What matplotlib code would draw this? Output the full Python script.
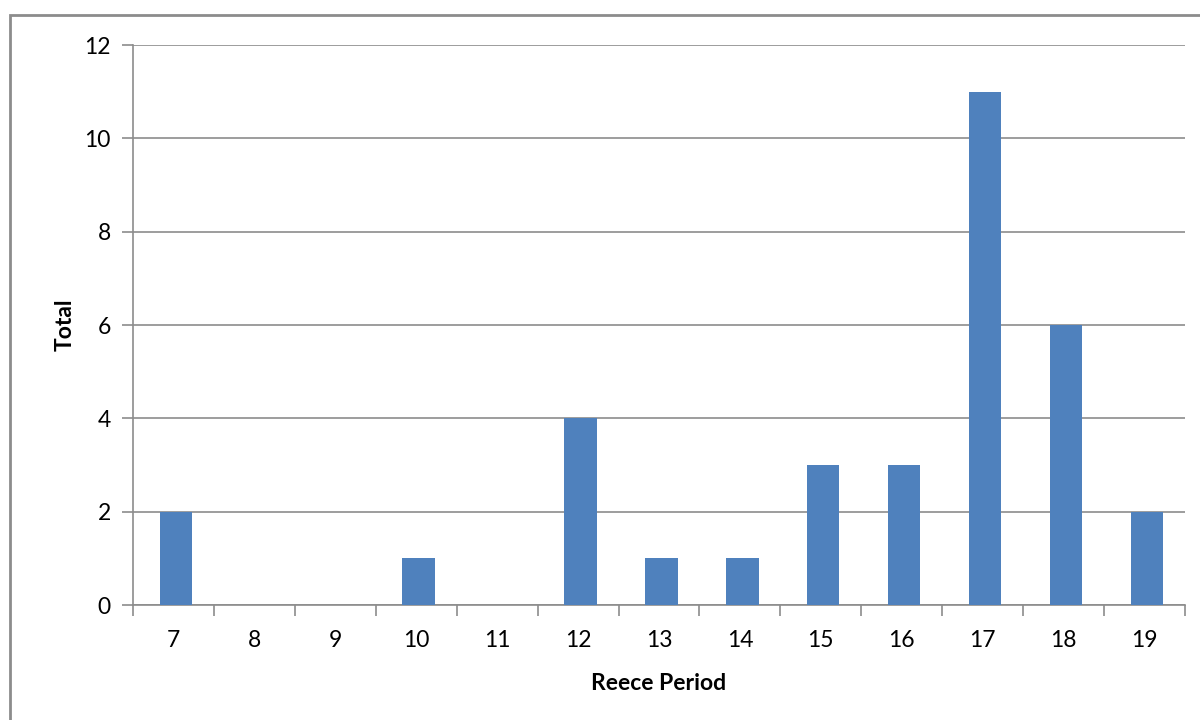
import matplotlib.pyplot as plt
import numpy as np
from matplotlib.patches import Rectangle

periods = ["7", "8", "9", "10", "11", "12", "13", "14", "15", "16", "17", "18", "19"]
totals = [2, 0, 0, 1, 0, 4, 1, 1, 3, 3, 11, 6, 2]

plt.rcParams["font.family"] = ["Lato", "DejaVu Sans"]

fig = plt.figure(figsize=(12, 7.2), dpi=100)
ax = fig.add_axes([133 / 1200, 115 / 720, 1052 / 1200, 560 / 720])

# outer chart border
fig.patches.append(Rectangle((10 / 1200, -0.1), 1.2, (720 - 15) / 720 + 0.1,
                             transform=fig.transFigure, fill=False,
                             edgecolor="#8c8c8c", linewidth=2))

x = np.arange(len(periods))
ax.bar(x + 0.03, totals, width=0.4, color="#4F81BD", zorder=3)

ax.set_xlim(-0.5, len(periods) - 0.5)
ax.set_ylim(0, 12)
ax.set_yticks(range(0, 13, 2))
ax.set_xticks(x)
ax.set_xticklabels(periods)
ax.set_xticks(np.arange(-0.5, len(periods), 1), minor=True)
ax.tick_params(axis="x", which="major", length=0, pad=18, labelsize=16.5)
ax.tick_params(axis="x", which="minor", length=8, color="#8c8c8c", width=1.2)
ax.tick_params(axis="y", length=8, color="#8c8c8c", width=1.2, labelsize=16.5, pad=8)

ax.grid(axis="y", color="#8c8c8c", linewidth=1.2, zorder=0)
for side in ("top", "right"):
    ax.spines[side].set_visible(False)
for side in ("left", "bottom"):
    ax.spines[side].set_color("#8c8c8c")
    ax.spines[side].set_linewidth(1.2)

ax.set_xlabel("Reece Period", fontsize=16.5, fontweight="bold", labelpad=16)
ax.set_ylabel("Total", fontsize=16.5, fontweight="bold", labelpad=6)

fig.savefig("out.png", dpi=100)
